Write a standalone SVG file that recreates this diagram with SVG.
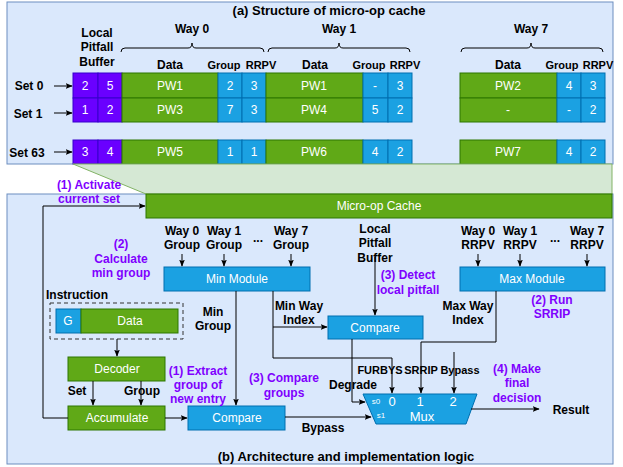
<svg xmlns="http://www.w3.org/2000/svg" width="623" height="467" viewBox="0 0 623 467">
<defs>
<marker id="ah" viewBox="0 0 10 10" refX="9" refY="5" markerWidth="7" markerHeight="7" orient="auto" markerUnits="userSpaceOnUse"><path d="M0,1 L10,5 L0,9 L2,5 Z" fill="#000"/></marker>
<style>
text{font-family:"Liberation Sans",Arial,sans-serif}
.b{font-weight:bold;font-size:12px;fill:#000;text-anchor:middle}
.h{font-weight:bold;font-size:11px;fill:#000;text-anchor:middle}
.p{font-weight:bold;font-size:12px;fill:#7f00ff;text-anchor:middle}
.w{font-size:12px;fill:#fff;text-anchor:middle}
.ttl{font-weight:bold;font-size:13px;fill:#000;text-anchor:middle}
.panel{fill:#dae8fc;stroke:#6c8ebf;stroke-width:1}
.g{fill:#60a917;stroke:#2d7600;stroke-width:1}
.bl{fill:#1ba1e2;stroke:#006eaf;stroke-width:1}
.pu{fill:#6a00ff;stroke:#3700cc;stroke-width:1}
.ln{fill:none;stroke:#000;stroke-width:1}
.ar{fill:none;stroke:#000;stroke-width:1;marker-end:url(#ah)}
</style>
</defs>
<rect width="623" height="467" fill="#fff"/>
<g id="panel-a">
<rect class="panel" x="7" y="2" width="606" height="162"/>
<text class="ttl" x="329" y="15">(a) Structure of micro-op cache</text>
<text class="b" x="97" y="37">Local</text>
<text class="b" x="97" y="51">Pitfall</text>
<text class="b" x="97" y="66">Buffer</text>
<text class="b" x="192" y="33">Way 0</text>
<text class="b" x="339" y="33">Way 1</text>
<text class="b" x="531" y="33">Way 7</text>
<path class="ln" d="M121,52 Q121,48 125,48 L188,48 Q192,48 192,43 Q192,48 196,48 L260,48 Q264,48 264,52"/>
<path class="ln" d="M268,52 Q268,48 272,48 L335,48 Q339,48 339,43 Q339,48 343,48 L406,48 Q410,48 410,52"/>
<path class="ln" d="M461,52 Q461,48 465,48 L527,48 Q531,48 531,43 Q531,48 535,48 L599,48 Q603,48 603,52"/>
<text class="b" x="170" y="69">Data</text>
<text class="h" x="224" y="69">Group</text>
<text class="h" x="261" y="69">RRPV</text>
<text class="b" x="315" y="69">Data</text>
<text class="h" x="369" y="69">Group</text>
<text class="h" x="405" y="69">RRPV</text>
<text class="b" x="508" y="69">Data</text>
<text class="h" x="562" y="69">Group</text>
<text class="h" x="598" y="69">RRPV</text>
</g>
<g id="set0">
<text class="b" x="29" y="90">Set 0</text>
<rect class="pu" x="73" y="73" width="25" height="25"/><rect class="pu" x="98" y="73" width="24" height="25"/>
<rect class="g" x="122" y="73" width="96" height="25"/>
<rect class="bl" x="218" y="73" width="24" height="25"/><rect class="bl" x="242" y="73" width="24" height="25"/>
<rect class="g" x="266" y="73" width="97" height="25"/>
<rect class="bl" x="363" y="73" width="25" height="25"/><rect class="bl" x="388" y="73" width="24" height="25"/>
<rect class="g" x="460" y="73" width="97" height="25"/>
<rect class="bl" x="557" y="73" width="24" height="25"/><rect class="bl" x="581" y="73" width="24" height="25"/>
<text class="w" x="85" y="90">2</text><text class="w" x="110" y="90">5</text>
<text class="w" x="170" y="90">PW1</text><text class="w" x="230" y="90">2</text><text class="w" x="254" y="90">3</text>
<text class="w" x="314" y="90">PW1</text><text class="w" x="375" y="90">-</text><text class="w" x="400" y="90">3</text>
<text class="w" x="508" y="90">PW2</text><text class="w" x="569" y="90">4</text><text class="w" x="593" y="90">3</text>
</g>
<g id="set1">
<text class="b" x="28" y="118">Set 1</text>
<rect class="pu" x="73" y="98" width="25" height="24"/><rect class="pu" x="98" y="98" width="24" height="24"/>
<rect class="g" x="122" y="98" width="96" height="24"/>
<rect class="bl" x="218" y="98" width="24" height="24"/><rect class="bl" x="242" y="98" width="24" height="24"/>
<rect class="g" x="266" y="98" width="97" height="24"/>
<rect class="bl" x="363" y="98" width="25" height="24"/><rect class="bl" x="388" y="98" width="24" height="24"/>
<rect class="g" x="460" y="98" width="97" height="24"/>
<rect class="bl" x="557" y="98" width="24" height="24"/><rect class="bl" x="581" y="98" width="24" height="24"/>
<text class="w" x="85" y="114">1</text><text class="w" x="110" y="114">2</text>
<text class="w" x="170" y="114">PW3</text><text class="w" x="230" y="114">7</text><text class="w" x="254" y="114">3</text>
<text class="w" x="314" y="114">PW4</text><text class="w" x="375" y="114">5</text><text class="w" x="400" y="114">2</text>
<text class="w" x="508" y="114">-</text><text class="w" x="569" y="114">-</text><text class="w" x="593" y="114">2</text>
</g>
<g id="set63">
<text class="b" x="27" y="157">Set 63</text>
<rect class="pu" x="73" y="140" width="25" height="24"/><rect class="pu" x="98" y="140" width="24" height="24"/>
<rect class="g" x="122" y="140" width="96" height="24"/>
<rect class="bl" x="218" y="140" width="24" height="24"/><rect class="bl" x="242" y="140" width="24" height="24"/>
<rect class="g" x="266" y="140" width="97" height="24"/>
<rect class="bl" x="363" y="140" width="25" height="24"/><rect class="bl" x="388" y="140" width="24" height="24"/>
<rect class="g" x="460" y="140" width="97" height="24"/>
<rect class="bl" x="557" y="140" width="24" height="24"/><rect class="bl" x="581" y="140" width="24" height="24"/>
<text class="w" x="85" y="156">3</text><text class="w" x="110" y="156">4</text>
<text class="w" x="170" y="156">PW5</text><text class="w" x="230" y="156">1</text><text class="w" x="254" y="156">1</text>
<text class="w" x="314" y="156">PW6</text><text class="w" x="375" y="156">4</text><text class="w" x="400" y="156">2</text>
<text class="w" x="508" y="156">PW7</text><text class="w" x="569" y="156">4</text><text class="w" x="593" y="156">2</text>
</g>
<g id="panel-b">
<rect class="panel" x="7" y="194" width="606" height="270"/>
<text class="ttl" x="346" y="461">(b) Architecture and implementation logic</text>
</g>
<g id="zoom">
<path d="M73,164 L612,164 L612,194 L146,194 Z" fill="#d5e8d4" stroke="#82b366" stroke-width="1"/>
</g>
<g id="microop-cache">
<rect class="g" x="146" y="194" width="466" height="24"/>
<text class="w" x="379" y="210">Micro-op Cache</text>
</g>
<g id="min-module">
<rect class="bl" x="164" y="267" width="146" height="24"/>
<text class="w" x="237" y="283">Min Module</text>
</g>
<g id="max-module">
<rect class="bl" x="460" y="267" width="145" height="24"/>
<text class="w" x="532" y="283">Max Module</text>
</g>
<g id="instruction">
<text class="b" x="46" y="299" style="text-anchor:start">Instruction</text>
<rect x="50" y="303" width="133" height="36" fill="none" stroke="#333" stroke-dasharray="4,3"/>
<rect class="bl" x="56" y="309" width="25" height="24"/>
<rect class="g" x="81" y="309" width="97" height="24"/>
<text class="w" x="68" y="325">G</text>
<text class="w" x="130" y="325">Data</text>
</g>
<g id="decoder">
<rect class="g" x="68" y="357" width="97" height="24"/>
<text class="w" x="117" y="373">Decoder</text>
</g>
<g id="accumulate">
<rect class="g" x="68" y="406" width="97" height="24"/>
<text class="w" x="117" y="422">Accumulate</text>
</g>
<g id="compare-groups">
<rect class="bl" x="188" y="406" width="97" height="24"/>
<text class="w" x="237" y="422">Compare</text>
</g>
<g id="compare-pitfall">
<rect class="bl" x="328" y="316" width="95" height="23"/>
<text class="w" x="375" y="332">Compare</text>
</g>
<g id="mux">
<path d="M363,394 L477,394 L466,424 L376,424 Z" fill="#1ba1e2" stroke="#006eaf"/>
<text x="376" y="404" style="font-size:8px;fill:#fff;text-anchor:middle;font-family:'Liberation Sans',sans-serif">s0</text>
<text x="381" y="418" style="font-size:8px;fill:#fff;text-anchor:middle;font-family:'Liberation Sans',sans-serif">s1</text>
<text class="w" x="392" y="406" style="font-size:13px">0</text>
<text class="w" x="420" y="406" style="font-size:13px">1</text>
<text class="w" x="453" y="406" style="font-size:13px">2</text>
<text class="w" x="422" y="421" style="font-size:13px">Mux</text>
</g>
<g id="connectors">
<path class="ar" d="M54,86 L72,86"/>
<path class="ar" d="M54,113 L72,113"/>
<path class="ar" d="M54,152 L72,152"/>
<path class="ar" d="M68,418 L43,418 L43,206 L145,206"/>
<path class="ar" d="M182,254 L182,266"/>
<path class="ar" d="M224,254 L224,266"/>
<path class="ar" d="M291,254 L291,266"/>
<path class="ar" d="M478,254 L478,266"/>
<path class="ar" d="M520,254 L520,266"/>
<path class="ar" d="M587,254 L587,266"/>
<path class="ar" d="M117,339 L117,356"/>
<path class="ar" d="M93,381 L93,405"/>
<path class="ar" d="M141,381 L141,405"/>
<path class="ar" d="M165,418 L187,418"/>
<path class="ar" d="M236,291 L236,405"/>
<path class="ar" d="M273,291 L273,327 L327,327"/>
<path class="ar" d="M273,327 L273,358 L392,358 L392,393"/>
<path class="ar" d="M375,257 L375,315"/>
<path class="ar" d="M496,291 L496,342 L421,342 L421,393"/>
<path class="ar" d="M454,352 L454,393"/>
<path class="ar" d="M352,339 L352,402 L365,402"/>
<path class="ar" d="M285,417 L371,417"/>
<path class="ar" d="M471,409 L539,409"/>
</g>
<g id="labels">
<text class="p" x="89" y="189">(1) Activate</text>
<text class="p" x="89" y="203">current set</text>
<text class="b" x="182" y="235">Way 0</text><text class="b" x="182" y="249">Group</text>
<text class="b" x="224" y="235">Way 1</text><text class="b" x="224" y="249">Group</text>
<text class="b" x="258" y="242">...</text>
<text class="b" x="291" y="235">Way 7</text><text class="b" x="291" y="249">Group</text>
<text class="p" x="121" y="248">(2)</text>
<text class="p" x="121" y="263">Calculate</text>
<text class="p" x="121" y="277">min group</text>
<text class="b" x="375" y="233">Local</text>
<text class="b" x="375" y="247">Pitfall</text>
<text class="b" x="375" y="262">Buffer</text>
<text class="p" x="408" y="279">(3) Detect</text>
<text class="p" x="408" y="294">local pitfall</text>
<text class="b" x="478" y="235">Way 0</text><text class="b" x="478" y="249">RRPV</text>
<text class="b" x="520" y="235">Way 1</text><text class="b" x="520" y="249">RRPV</text>
<text class="b" x="555" y="242">...</text>
<text class="b" x="587" y="235">Way 7</text><text class="b" x="587" y="249">RRPV</text>
<text class="p" x="552" y="304">(2) Run</text>
<text class="p" x="552" y="318">SRRIP</text>
<text class="b" x="213" y="316">Min</text>
<text class="b" x="213" y="330">Group</text>
<text class="b" x="299" y="310">Min Way</text>
<text class="b" x="299" y="324">Index</text>
<text class="b" x="468" y="310">Max Way</text>
<text class="b" x="468" y="324">Index</text>
<text class="b" x="77" y="395">Set</text>
<text class="b" x="142" y="395">Group</text>
<text class="p" x="198" y="375">(1) Extract</text>
<text class="p" x="198" y="389">group of</text>
<text class="p" x="198" y="403">new entry</text>
<text class="p" x="284" y="382">(3) Compare</text>
<text class="p" x="284" y="397">groups</text>
<text class="h" x="380" y="374">FURBYS</text>
<text class="h" x="421" y="374">SRRIP</text>
<text class="h" x="460" y="374">Bypass</text>
<text class="b" x="353" y="389">Degrade</text>
<text class="b" x="323" y="432">Bypass</text>
<text class="p" x="517" y="373">(4) Make</text>
<text class="p" x="517" y="387">final</text>
<text class="p" x="517" y="402">decision</text>
<text class="b" x="571" y="414">Result</text>
</g>
</svg>
